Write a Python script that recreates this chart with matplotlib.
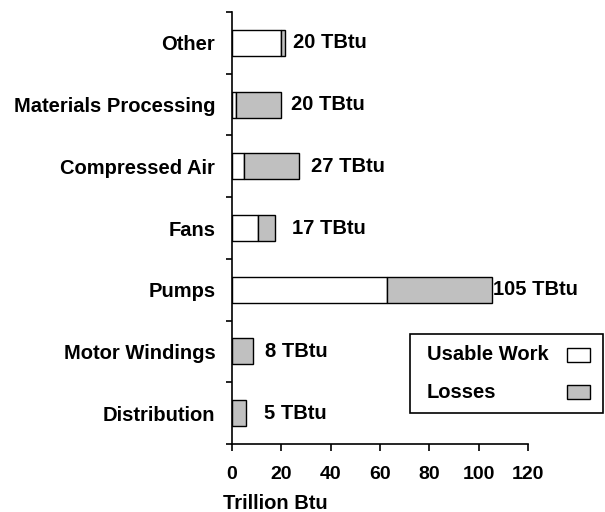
import matplotlib.pyplot as plt
from matplotlib.patches import Rectangle
import numpy as np

plt.rcParams['font.family'] = ['Liberation Sans', 'DejaVu Sans']
plt.rcParams['font.weight'] = 'bold'

# datos (de arriba hacia abajo)
categorias = ['Other', 'Materials Processing', 'Compressed Air', 'Fans',
              'Pumps', 'Motor Windings', 'Distribution']
trabajo_util = [20, 1.5, 5, 10.5, 63, 0, 0]
perdidas = [1.5, 18.5, 22, 7, 42.5, 8.5, 5.5]
etiquetas = ['20 TBtu', '20 TBtu', '27 TBtu', '17 TBtu', '105 TBtu', '8 TBtu', '5 TBtu']
series = ['Usable Work', 'Losses']
colores = ['white', '#c0c0c0']

# desplazamiento horizontal de cada etiqueta (en pixeles)
desfase_px = [8, 10, 12, 17, 1, 12, 18]

fig = plt.figure(figsize=(6.05, 5.12), dpi=100)
ax = fig.add_axes([232/605, 1 - 444/512, 296/605, 432/512])

n = len(categorias)
y = np.arange(n)[::-1]
alto = 0.42

ax.barh(y, trabajo_util, height=alto, color=colores[0], edgecolor='black', linewidth=1.0)
ax.barh(y, perdidas, left=trabajo_util, height=alto, color=colores[1], edgecolor='black',
        linewidth=1.0)

for yi, u, p, txt, d in zip(y, trabajo_util, perdidas, etiquetas, desfase_px):
    ax.annotate(txt, xy=(u + p, yi), xytext=(d * 0.72, 0), textcoords='offset points',
                ha='left', va='center', fontsize=14.5, fontweight='bold')

ax.set_xlim(0, 120)
ax.set_ylim(-0.5, n - 0.5)
ax.set_xticks(np.arange(0, 121, 20))
ax.tick_params(axis='x', direction='out', length=5, width=1.2, pad=11, labelsize=14)

ax.set_yticks(y)
ax.set_yticklabels(categorias, fontsize=14.5, fontweight='bold')
ax.tick_params(axis='y', which='major', length=0, pad=12)
ax.set_yticks(np.arange(-0.5, n, 1.0), minor=True)
ax.tick_params(axis='y', which='minor', direction='out', length=4, width=1.2)

for lab in ax.get_xticklabels():
    lab.set_fontweight('bold')

ax.spines['top'].set_visible(False)
ax.spines['right'].set_visible(False)
ax.spines['left'].set_linewidth(1.2)
ax.spines['bottom'].set_linewidth(1.2)

ax.set_xlabel('Trillion Btu', fontsize=14.5, fontweight='bold')
ax.xaxis.set_label_coords((275 - 232) / 296, -0.115)

# leyenda dibujada a mano (texto a la izquierda, muestra a la derecha)
lax = fig.add_axes([0, 0, 1, 1], zorder=5)
lax.set_xlim(0, 605)
lax.set_ylim(512, 0)
lax.axis('off')
lax.add_patch(Rectangle((410, 334), 193, 79, facecolor='white', edgecolor='black', linewidth=1.2))
for i, (nombre, col) in enumerate(zip(series, colores)):
    yc = 355 + 37 * i
    lax.text(427, yc, nombre, ha='left', va='center', fontsize=14.5, fontweight='bold')
    lax.add_patch(Rectangle((567, yc - 7), 23, 14, facecolor=col, edgecolor='black', linewidth=1.0))

fig.savefig('out.png', dpi=100)
